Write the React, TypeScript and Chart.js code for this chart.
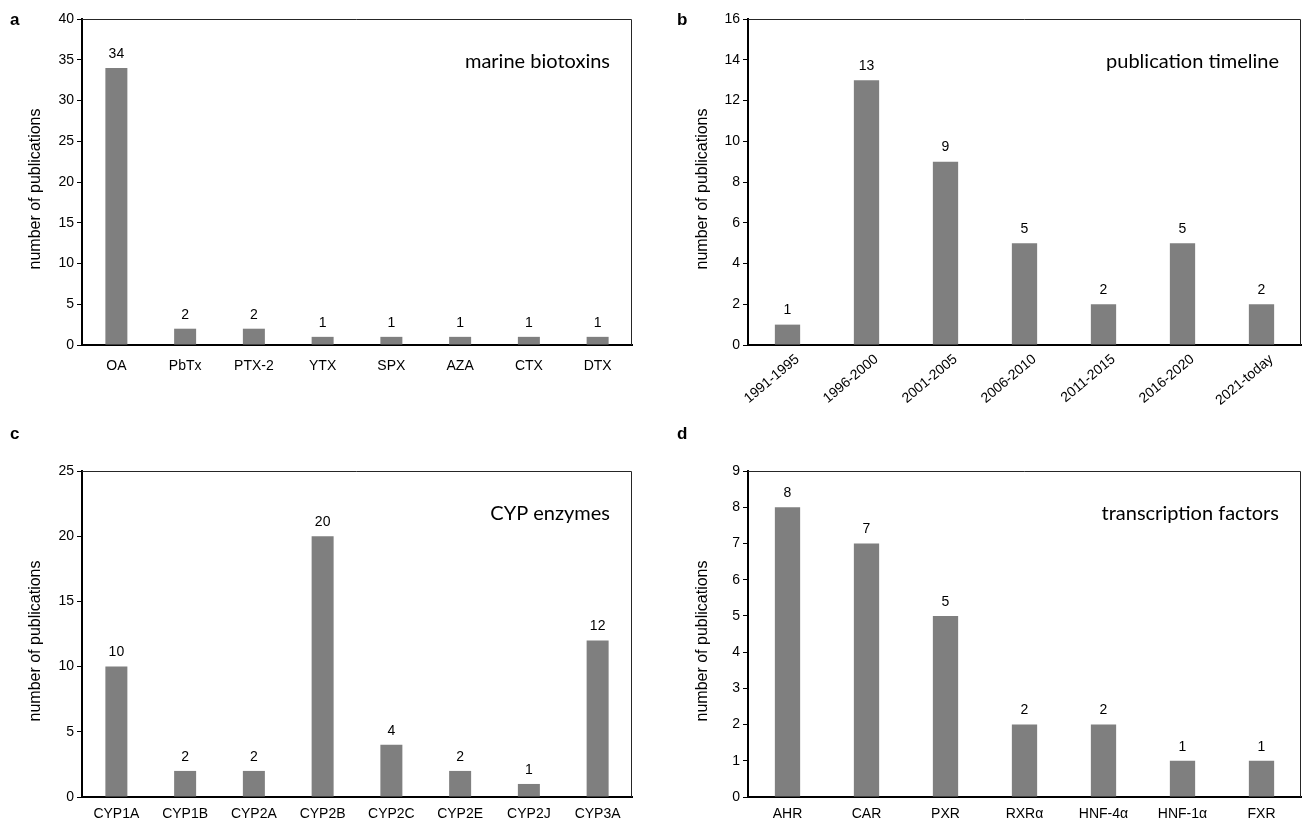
import React, { useEffect, useRef } from "react";
import { Chart, registerables } from "chart.js";

Chart.register(...registerables);

const toxinLabels = ["OA", "PbTx", "PTX-2", "YTX", "SPX", "AZA", "CTX", "DTX"];
const toxinValues = [34, 2, 2, 1, 1, 1, 1, 1];

const periodLabels = ["1991-1995", "1996-2000", "2001-2005", "2006-2010", "2011-2015", "2016-2020", "2021-today"];
const periodValues = [1, 13, 9, 5, 2, 5, 2];

const cypLabels = ["CYP1A", "CYP1B", "CYP2A", "CYP2B", "CYP2C", "CYP2E", "CYP2J", "CYP3A"];
const cypValues = [10, 2, 2, 20, 4, 2, 1, 12];

const tfLabels = ["AHR", "CAR", "PXR", "RXRα", "HNF-4α", "HNF-1α", "FXR"];
const tfValues = [8, 7, 5, 2, 2, 1, 1];

const yAxisTitle = "number of publications";
const FONT = "'Liberation Sans', Arial, sans-serif";

type Panel = {
  letter: string;
  title: string;
  labels: string[];
  values: number[];
  yMax: number;
  yStep: number;
  rotate: boolean;
  left: number;
  top: number;
  width: number;
  height: number;
  yWidth: number;
  padTop: number;
  padRight: number;
  xHeight: number;
  tickPad: number;
  letterX: number;
  letterY: number;
  yTitleX: number;
};

const panels: Panel[] = [
  { letter: "a", title: "marine biotoxins", labels: toxinLabels, values: toxinValues, yMax: 40, yStep: 5, rotate: false,
    left: 0, top: 0, width: 651, height: 412, yWidth: 82, padTop: 19, padRight: 19, xHeight: 67, tickPad: 13, letterX: 10, letterY: 20, yTitleX: 36 },
  { letter: "b", title: "publication timeline", labels: periodLabels, values: periodValues, yMax: 16, yStep: 2, rotate: true,
    left: 651, top: 0, width: 652, height: 412, yWidth: 97, padTop: 19, padRight: 2, xHeight: 67, tickPad: 6, letterX: 26, letterY: 20, yTitleX: 52 },
  { letter: "c", title: "CYP enzymes", labels: cypLabels, values: cypValues, yMax: 25, yStep: 5, rotate: false,
    left: 0, top: 412, width: 651, height: 412, yWidth: 82, padTop: 59, padRight: 19, xHeight: 27, tickPad: 9, letterX: 10, letterY: 22, yTitleX: 36 },
  { letter: "d", title: "transcription factors", labels: tfLabels, values: tfValues, yMax: 9, yStep: 1, rotate: false,
    left: 651, top: 412, width: 652, height: 412, yWidth: 97, padTop: 59, padRight: 2, xHeight: 27, tickPad: 9, letterX: 26, letterY: 22, yTitleX: 52 },
];

function PanelChart({ p }: { p: Panel }) {
  const ref = useRef<HTMLCanvasElement | null>(null);
  useEffect(() => {
    if (!ref.current) return;
    const deco = {
      id: "deco",
      afterDraw(chart: any) {
        const ctx = chart.ctx;
        const a = chart.chartArea;
        ctx.save();
        // top and right frame
        ctx.strokeStyle = "#262626";
        ctx.lineWidth = 1;
        ctx.beginPath();
        ctx.moveTo(a.left, a.top + 0.5);
        ctx.lineTo(a.right - 0.5, a.top + 0.5);
        ctx.lineTo(a.right - 0.5, a.bottom);
        ctx.stroke();
        // value labels
        ctx.fillStyle = "#000";
        ctx.font = `14px ${FONT}`;
        ctx.textAlign = "center";
        ctx.textBaseline = "bottom";
        const meta = chart.getDatasetMeta(0);
        meta.data.forEach((el: any, i: number) => {
          ctx.fillText(String(p.values[i]), el.x, el.y - 7);
        });
        // inset title
        ctx.font = `20px Lato, 'Open Sans', sans-serif`;
        ctx.textAlign = "right";
        ctx.textBaseline = "middle";
        ctx.fillText(p.title, a.right - 22, a.top + 43);
        // panel letter
        ctx.font = `bold 17px ${FONT}`;
        ctx.textAlign = "left";
        ctx.fillText(p.letter, p.letterX, p.letterY);
        // y axis title
        ctx.font = `16px ${FONT}`;
        ctx.textAlign = "center";
        ctx.translate(p.yTitleX, (a.top + a.bottom) / 2 + 7);
        ctx.rotate(-Math.PI / 2);
        ctx.fillText(yAxisTitle, 0, 0);
        ctx.restore();
      },
    };
    const chart = new Chart(ref.current, {
      type: "bar",
      data: {
        labels: p.labels,
        datasets: [
          {
            data: p.values,
            backgroundColor: "#7f7f7f",
            borderWidth: 0,
            barPercentage: 0.32,
            categoryPercentage: 1,
          },
        ],
      },
      options: {
        animation: false,
        responsive: false,
        maintainAspectRatio: false,
        layout: { padding: { top: p.padTop, right: p.padRight, left: 0, bottom: 0 } },
        plugins: { legend: { display: false }, tooltip: { enabled: false } },
        scales: {
          x: {
            grid: { display: true, drawOnChartArea: false, drawTicks: false },
            border: { display: true, color: "#000", width: 2 },
            ticks: {
              color: "#000",
              font: { family: FONT, size: 14 },
              padding: p.tickPad,
              maxRotation: p.rotate ? 40 : 0,
              minRotation: p.rotate ? 40 : 0,
              labelOffset: p.rotate ? 10 : 0,
              autoSkip: false,
            },
            afterFit(scale: any) {
              scale.height = p.xHeight;
              scale.paddingLeft = 0;
              scale.paddingRight = 0;
              scale.paddingTop = 0;
              scale.paddingBottom = 0;
            },
          },
          y: {
            min: 0,
            max: p.yMax,
            grid: { display: true, drawOnChartArea: false, drawTicks: true, tickLength: 5, color: "#000", lineWidth: 1 },
            border: { display: true, color: "#000", width: 2 },
            ticks: {
              stepSize: p.yStep,
              color: "#000",
              font: { family: FONT, size: 14 },
              padding: 3,
            },
            afterFit(scale: any) {
              scale.width = p.yWidth;
              scale.paddingLeft = 0;
              scale.paddingRight = 0;
              scale.paddingTop = 0;
              scale.paddingBottom = 0;
            },
          },
        },
      },
      plugins: [deco],
    } as any);
    return () => chart.destroy();
  }, [p]);
  return (
    <div style={{ position: "absolute", left: p.left, top: p.top, width: p.width, height: p.height }}>
      <canvas ref={ref} width={p.width} height={p.height} style={{ width: p.width, height: p.height, display: "block" }} />
    </div>
  );
}

export default function App() {
  return (
    <div style={{ position: "absolute", left: 0, top: 0, width: 1303, height: 824, background: "#fff" }}>
      {panels.map((p) => (
        <PanelChart key={p.letter} p={p} />
      ))}
    </div>
  );
}
